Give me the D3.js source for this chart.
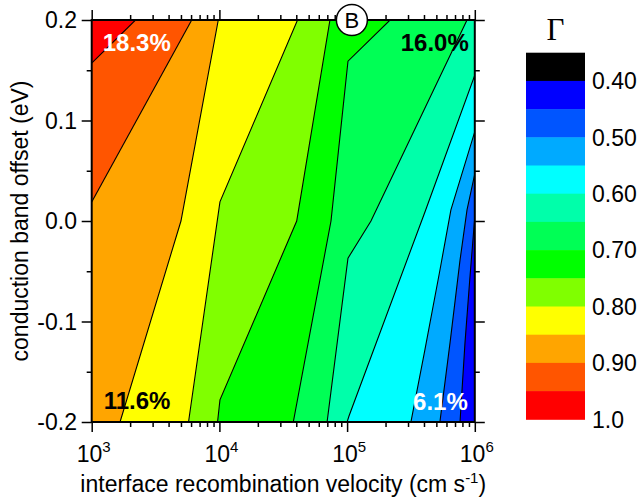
<!DOCTYPE html>
<html><head><meta charset="utf-8">
<script src="https://cdn.jsdelivr.net/npm/d3@7"></script>
<style>
body{margin:0;background:#fff}
svg{display:block}
</style>
</head><body>
<svg id="c" width="638" height="502" font-family="Arial, 'Liberation Sans', sans-serif"></svg>
<script>
// ---- data ----
// contour levels of Gamma (lines separate bands)
const levels = [0.45, 0.50, 0.55, 0.60, 0.65, 0.70, 0.75, 0.80, 0.85, 0.90, 0.95];
// colour bands (0.35-0.40 ... 0.95-1.0)
const bandLower = [0.35, 0.40, 0.45, 0.50, 0.55, 0.60, 0.65, 0.70, 0.75, 0.80, 0.85, 0.90, 0.95];
const bandColors = ["#000000", "#0000ff", "#0055ff", "#00aaff", "#00ffff", "#00ffaa",
                    "#00ff55", "#00ff00", "#80ff00", "#ffff00", "#ffa500", "#ff5500", "#ff0000"];
const colorbarTicks = [0.40, 0.50, 0.60, 0.70, 0.80, 0.90, 1.0];
const colorbarTickLabels = ["0.40", "0.50", "0.60", "0.70", "0.80", "0.90", "1.0"];

// contour lines: [velocity (cm/s), conduction band offset (eV)]
const line045 = [[1e6, 0.004], [916000, -0.056], [838000, -0.121], [766000, -0.2]];
const line050 = [[1e6, 0.047], [869000, 0.011], [766000, -0.039], [640000, -0.121], [533000, -0.2]];
const line055 = [[1e6, 0.089], [650000, 0.011], [533000, -0.049], [407000, -0.128], [316000, -0.2]];
const line060 = [[1e6, 0.145], [407000, 0.009], [103500, -0.194], [100000, -0.2]];
const line065 = [[869000, 0.2], [153800, 0.0], [101600, -0.037], [69700, -0.2]];
const line070 = [[217000, 0.2], [101600, 0.159], [74800, 0.0], [37900, -0.2]];
const line075 = [[73400, 0.2], [40300, 0.0], [10100, -0.178], [9670, -0.2]];
const line080 = [[40900, 0.2], [10100, 0.019], [5730, -0.2]];
const line085 = [[9800, 0.2], [5000, 0.0], [1667, -0.2]];
const line090 = [[6070, 0.2], [1000, 0.019]];
const line095 = [[2203, 0.2], [1000, 0.157]];
const contourLines = [line045, line050, line055, line060, line065, line070, line075, line080, line085, line090, line095];

const xMajor = [1e3, 1e4, 1e5, 1e6];
const xExp = ["3", "4", "5", "6"];
const yMajor = [-0.2, -0.1, 0.0, 0.1, 0.2];
const yMinor = [-0.15, -0.05, 0.05, 0.15];

const annotations = [
  {text: "18.3%", s: 1000, o: 0.2, color: "#fff", dx: 11, dy: 31},
  {text: "16.0%", s: 1e6, o: 0.2, color: "#000", dx: -6, dy: 31, anchor: "end"},
  {text: "11.6%", s: 1000, o: -0.2, color: "#000", dx: 12, dy: -13},
  {text: "6.1%", s: 1e6, o: -0.2, color: "#fff", dx: -7, dy: -12, anchor: "end"}
];
const marker = {s: 109000, o: 0.2, label: "B"};

// ---- layout ----
const svg = d3.select("#c");
const L = 91.7, R = 474.8, T = 20, B = 422;
const x = d3.scaleLog().domain([1e3, 1e6]).range([L, R]);
const y = d3.scaleLinear().domain([-0.2, 0.2]).range([B, T]);
const color = v => bandColors[bandLower.findIndex(b => Math.abs(b - v) < 1e-9)];

// clip
svg.append("defs").append("clipPath").attr("id", "pc")
  .append("rect").attr("x", L).attr("y", T).attr("width", R - L).attr("height", B - T);

const plot = svg.append("g").attr("clip-path", "url(#pc)");

// perimeter parameter (BL=0, TL=1, TR=2, BR=3)
const eps = 1e-6;
function perimT(p) {
  const lx = Math.log10(p[0]), o = p[1];
  if (lx <= 3 + eps) return (o + 0.2) / 0.4;
  if (o >= 0.2 - eps) return 1 + (lx - 3) / 3;
  if (lx >= 6 - eps) return 2 + (0.2 - o) / 0.4;
  return 3 + (6 - lx) / 3;
}
const corners = [[[1e3, -0.2], 0], [[1e3, 0.2], 1], [[1e6, 0.2], 2], [[1e6, -0.2], 3]];
function regionAbove(line) {
  const tS = perimT(line[0]), tE = perimT(line[line.length - 1]);
  const tS2 = tS > tE ? tS : tS + 4;
  const extra = [];
  for (let k = 0; k < 2; k++) {
    corners.forEach(([pt, t]) => {
      const tt = t + 4 * k;
      if (tt > tE && tt < tS2) extra.push([tt, pt]);
    });
  }
  extra.sort((a, b) => a[0] - b[0]);
  return line.concat(extra.map(e => e[1]));
}
const lineGen = d3.line().x(d => x(d[0])).y(d => y(d[1]));

// base band (lowest present)
plot.append("rect").attr("x", L).attr("y", T).attr("width", R - L).attr("height", B - T)
  .attr("fill", color(0.40));
// filled regions, ascending
levels.forEach((lv, i) => {
  plot.append("path").attr("d", lineGen(regionAbove(contourLines[i])) + "Z")
    .attr("fill", color(lv));
});
// contour lines
contourLines.forEach(ln => {
  plot.append("path").attr("d", lineGen(ln)).attr("fill", "none")
    .attr("stroke", "#000").attr("stroke-width", 1.1);
});

// annotations
annotations.forEach(a => {
  svg.append("text").attr("x", x(a.s) + a.dx).attr("y", y(a.o) + a.dy)
    .attr("text-anchor", a.anchor || "start")
    .attr("font-size", 24).attr("font-weight", "bold").attr("fill", a.color).text(a.text);
});

// axes
const xMinor = [];
[1e3, 1e4, 1e5].forEach(d => { for (let k = 2; k <= 9; k++) xMinor.push(k * d); });

function styleAxis(g) {
  g.select(".domain").remove();
  g.selectAll(".tick line").attr("stroke", "#000").attr("stroke-width", 1.5);
  g.selectAll(".tick text").remove();
}
svg.append("g").attr("transform", `translate(0,${B})`)
  .call(d3.axisBottom(x).tickValues(xMajor).tickSize(10).tickFormat(() => "")).call(styleAxis);
svg.append("g").attr("transform", `translate(0,${B})`)
  .call(d3.axisBottom(x).tickValues(xMinor).tickSize(5).tickFormat(() => "")).call(styleAxis);
svg.append("g").attr("transform", `translate(0,${T})`)
  .call(d3.axisTop(x).tickValues(xMajor).tickSize(10).tickFormat(() => "")).call(styleAxis);
svg.append("g").attr("transform", `translate(0,${T})`)
  .call(d3.axisTop(x).tickValues(xMinor).tickSize(5).tickFormat(() => "")).call(styleAxis);
svg.append("g").attr("transform", `translate(${L},0)`)
  .call(d3.axisLeft(y).tickValues(yMajor).tickSize(10).tickFormat(() => "")).call(styleAxis);
svg.append("g").attr("transform", `translate(${L},0)`)
  .call(d3.axisLeft(y).tickValues(yMinor).tickSize(5).tickFormat(() => "")).call(styleAxis);
svg.append("g").attr("transform", `translate(${R},0)`)
  .call(d3.axisRight(y).tickValues(yMajor).tickSize(10).tickFormat(() => "")).call(styleAxis);
svg.append("g").attr("transform", `translate(${R},0)`)
  .call(d3.axisRight(y).tickValues(yMinor).tickSize(5).tickFormat(() => "")).call(styleAxis);

// x tick labels 10^n
xMajor.forEach((v, i) => {
  const t = svg.append("text").attr("x", x(v) + 2).attr("y", 462).attr("text-anchor", "middle")
    .attr("font-size", 23);
  t.append("tspan").text("10");
  t.append("tspan").attr("font-size", 15).attr("dy", -10).text(xExp[i]);
});
// y tick labels
yMajor.forEach(v => {
  svg.append("text").attr("x", 77).attr("y", y(v)).attr("dy", "0.36em")
    .attr("text-anchor", "end").attr("font-size", 23).text(v.toFixed(1));
});

// frame
svg.append("rect").attr("x", L).attr("y", T).attr("width", R - L).attr("height", B - T)
  .attr("fill", "none").attr("stroke", "#000").attr("stroke-width", 2);

// marker B
svg.append("circle").attr("cx", x(marker.s)).attr("cy", y(marker.o)).attr("r", 15.5)
  .attr("fill", "#fff").attr("stroke", "#000").attr("stroke-width", 1.5);
svg.append("text").attr("x", x(marker.s)).attr("y", y(marker.o)).attr("dy", "0.36em")
  .attr("text-anchor", "middle").attr("font-size", 22).text(marker.label);

// axis titles
const xt = svg.append("text").attr("x", (L + R) / 2).attr("y", 492).attr("text-anchor", "middle")
  .attr("font-size", 23);
xt.append("tspan").text("interface recombination velocity (cm s");
xt.append("tspan").attr("font-size", 15).attr("dy", -9).text("-1");
xt.append("tspan").attr("dy", 9).text(")");
svg.append("text").attr("transform", `translate(28,${(T + B) / 2}) rotate(-90)`)
  .attr("text-anchor", "middle").attr("font-size", 23).text("conduction band offset (eV)");

// colorbar
const cbX = 526, cbW = 59;
const cy = d3.scaleLinear().domain([0.35, 1.0]).range([52.7, 419.3]);
bandLower.forEach((b, i) => {
  svg.append("rect").attr("x", cbX).attr("y", cy(b)).attr("width", cbW)
    .attr("height", cy(b + 0.05) - cy(b) + 0.5).attr("fill", bandColors[i]);
});
colorbarTicks.forEach((v, i) => {
  svg.append("text").attr("x", 592).attr("y", cy(v)).attr("dy", "0.36em")
    .attr("font-size", 23).text(colorbarTickLabels[i]);
});
svg.append("text").attr("x", 555.5).attr("y", 40).attr("text-anchor", "middle")
  .style("font-family", "'Liberation Serif','Times New Roman',serif").attr("font-size", 31).text("Γ");
</script>
</body></html>
